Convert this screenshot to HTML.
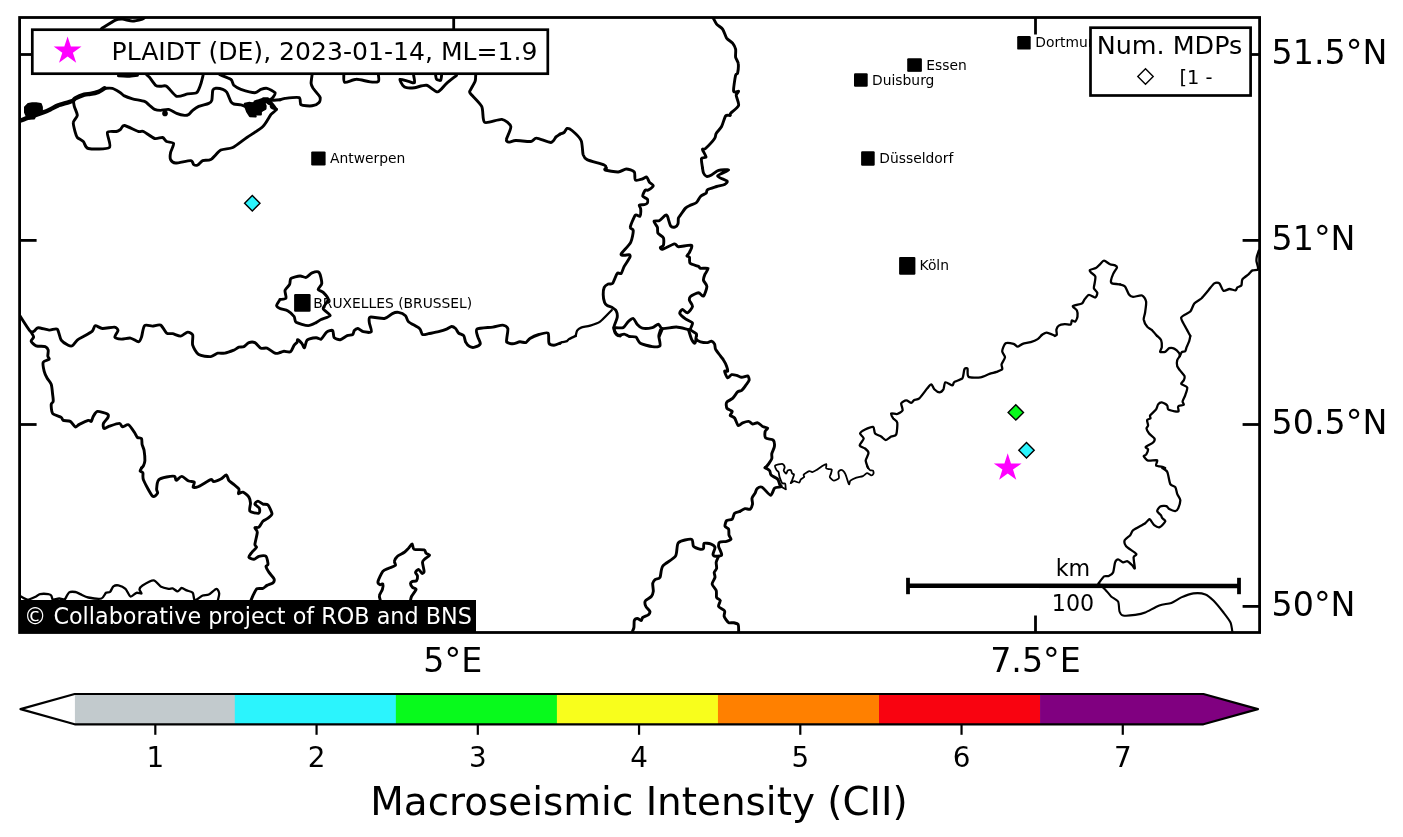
<!DOCTYPE html>
<html><head><meta charset="utf-8"><title>Macroseismic map</title>
<style>
html,body{margin:0;padding:0;background:#fff;}
svg{display:block;}
text{font-family:"DejaVu Sans","Liberation Sans",sans-serif;fill:#000;}
</style></head><body>
<svg width="1403" height="837" viewBox="0 0 1403 837">
<rect width="1403" height="837" fill="#fff"/>
<defs><clipPath id="ax"><rect x="19.6" y="17.5" width="1240.0" height="615.0"/></clipPath></defs>
<g clip-path="url(#ax)" fill="none" stroke="#000" stroke-width="2.9" stroke-linejoin="round" stroke-linecap="round">
<path d="M19.5,121.0 C20.3,120.7 23.1,119.5 26.1,118.4 C29.1,117.3 40.2,113.5 43.2,112.4 C46.2,111.3 48.3,110.3 50.2,109.4 C52.1,108.5 55.4,106.5 58.2,105.4 C61.0,104.4 70.2,101.9 72.3,101.0 C74.4,100.1 73.8,99.2 75.3,98.4 C76.8,97.6 82.4,95.3 84.3,94.7 C86.2,94.1 88.5,94.2 90.3,93.9 C92.1,93.6 96.6,92.6 98.4,91.9 C100.2,91.2 103.7,88.8 104.4,88.3" stroke-width="4.4"/>
<path d="M104.4,88.3 C105.4,88.3 110.4,87.8 112.4,88.3 C114.4,88.8 118.9,91.8 120.4,92.7 C121.9,93.7 122.9,95.1 124.4,95.9 C125.9,96.7 130.0,98.1 132.5,98.8 C135.0,99.5 142.4,100.6 144.5,101.4 C146.6,102.2 148.2,104.4 149.5,105.4 C150.8,106.4 153.2,108.8 154.6,109.4 C156.0,110.0 158.8,110.4 160.6,110.4 C162.3,110.4 166.6,109.0 168.6,109.4 C170.6,109.8 174.6,112.7 176.6,113.4 C178.6,114.2 183.2,115.3 184.7,115.4 C186.2,115.5 187.7,115.0 188.7,114.4 C189.7,113.8 191.4,111.4 192.7,110.4 C193.9,109.4 196.7,107.3 198.7,106.4 C200.7,105.5 207.2,104.2 208.8,103.4 C210.4,102.7 211.3,102.0 211.8,100.4 C212.3,98.8 212.3,91.8 212.8,90.3 C213.3,88.8 214.6,88.4 215.8,88.3 C217.1,88.2 221.4,88.8 222.8,89.3 C224.2,89.8 225.8,90.8 226.8,92.3 C227.8,93.8 229.9,99.9 230.8,101.4 C231.7,102.9 232.5,103.6 233.8,104.0 C235.1,104.4 239.4,104.5 240.9,104.8 C242.4,105.1 244.9,106.5 245.9,106.4 C246.9,106.4 247.8,104.8 248.9,104.4 C250.0,104.0 253.4,104.0 254.9,103.4 C256.4,102.9 259.4,100.5 260.9,100.0 C262.4,99.5 265.9,99.4 267.0,99.4 C268.1,99.5 268.4,100.4 270.0,100.4 C271.6,100.5 278.8,99.9 280.0,99.8"/>
<circle cx="165.0" cy="113.4" r="2.8" fill="#000" stroke="none"/>
<path d="M73.3,100.4 C73.4,101.2 73.8,104.5 74.3,106.4 C74.8,108.3 77.4,113.4 77.3,115.4 C77.2,117.4 73.5,120.3 73.3,122.4 C73.0,124.5 74.8,130.6 75.3,132.5 C75.8,134.4 76.3,136.4 77.3,137.5 C78.3,138.6 81.9,140.1 83.3,141.5 C84.7,142.9 85.0,147.8 88.3,148.5 C91.6,149.2 107.0,149.5 109.4,147.5 C111.8,145.5 106.5,134.5 107.4,132.5 C108.3,130.5 114.8,131.9 116.4,131.5 C118.0,131.1 119.4,130.2 120.4,129.5 C121.4,128.8 122.1,125.2 124.4,125.5 C126.7,125.8 136.1,130.8 138.5,131.5 C140.9,132.2 141.5,130.6 143.5,131.5 C145.5,132.4 152.2,137.8 154.6,138.5 C157.0,139.2 161.1,137.1 162.6,137.5 C164.1,137.9 165.2,140.8 166.6,141.5 C168.0,142.2 173.1,142.1 173.6,143.5 C174.1,144.9 171.0,150.5 170.6,152.5 C170.2,154.5 170.0,158.3 170.6,159.6 C171.2,160.9 173.1,162.9 175.6,163.0 C178.1,163.1 188.4,160.4 190.7,160.6 C193.0,160.8 192.8,164.0 193.7,164.6 C194.6,165.2 196.6,165.5 197.7,165.0 C198.8,164.5 201.1,161.3 202.7,160.6 C204.3,159.9 208.5,160.9 210.8,159.6 C213.1,158.3 218.1,151.6 220.8,150.1 C223.6,148.6 229.5,149.1 232.8,147.5 C236.1,145.9 243.1,140.1 246.9,137.5 C250.7,134.9 259.9,129.4 262.9,126.5 C265.9,123.6 269.4,116.5 271.0,114.4 C272.6,112.3 276.1,111.0 276.0,109.4 C275.9,107.8 270.8,102.4 270.0,101.4"/>
<path d="M146.5,74.7 C146.9,75.0 148.4,76.0 149.5,77.3 C150.6,78.6 154.2,84.2 155.6,85.3 C157.0,86.4 159.2,86.2 160.6,86.3 C162.0,86.4 164.6,85.0 166.6,86.3 C168.6,87.5 174.0,95.3 176.6,96.3 C179.2,97.2 185.2,94.4 187.7,93.9 C190.2,93.5 195.1,93.9 196.7,92.7 C198.3,91.5 199.9,86.5 200.7,84.3 C201.5,82.1 202.8,76.4 203.1,75.3"/>
<path d="M219.8,74.7 C221.2,75.3 229.1,78.0 230.8,79.3 C232.6,80.6 232.5,84.0 233.8,85.3 C235.1,86.5 238.3,88.4 240.9,89.3 C243.5,90.2 252.4,92.7 254.9,92.7 C257.4,92.7 259.4,89.8 260.9,89.3 C262.4,88.8 265.2,87.9 267.0,88.3 C268.8,88.7 274.2,91.6 275.0,92.7 C275.8,93.8 273.6,96.5 273.0,97.4 C272.4,98.3 270.4,99.5 270.0,99.8"/>
<path d="M118.4,75.9 C119.7,76.0 126.1,76.4 128.5,76.3 C130.9,76.2 136.4,75.4 137.5,75.3"/>
<path d="M101.4,28.7 C103.2,27.6 112.8,21.3 115.4,20.1 C118.0,18.9 120.3,19.0 122.4,19.1 C124.5,19.2 130.0,21.1 132.5,21.1 C135.0,21.1 141.0,19.5 142.5,19.1 C144.0,18.7 144.2,17.9 144.5,17.7"/>
<path d="M280.0,99.8 C280.6,99.6 282.6,98.7 285.0,98.4 C287.4,98.1 297.1,96.8 299.1,97.6 C301.1,98.4 299.5,103.8 301.1,104.8 C302.7,105.8 309.9,106.1 312.1,105.8 C314.4,105.5 318.1,103.5 319.1,102.4 C320.1,101.4 320.4,98.5 320.1,97.4 C319.9,96.3 318.0,94.4 317.1,93.3 C316.2,92.2 313.9,89.5 313.1,88.3 C312.4,87.0 311.2,85.0 311.1,83.3 C311.0,81.6 312.0,75.8 312.1,74.7"/>
<path d="M343.8,74.7 C343.9,75.7 343.2,81.7 344.8,82.3 C346.4,82.9 353.1,79.3 356.3,79.3 C359.5,79.2 367.5,81.7 370.3,81.9 C373.1,82.2 377.4,82.2 378.4,81.3 C379.4,80.4 378.4,75.5 378.4,74.7"/>
<path d="M413.5,74.7 C413.6,75.7 415.1,81.9 414.5,82.7 C413.9,83.5 410.3,81.7 408.5,81.3 C406.7,80.9 400.7,78.8 400.0,79.3 C399.3,79.8 402.0,84.2 402.8,85.3 C403.6,86.3 405.0,87.4 406.5,87.7 C408.0,88.0 412.0,88.0 414.5,87.7 C417.0,87.4 423.6,84.8 426.5,85.3 C429.4,85.8 435.1,92.2 437.6,91.9 C440.1,91.7 444.2,85.4 446.6,83.3 C449.0,81.2 455.4,76.3 456.6,75.3"/>
<path d="M435.6,75.3 C435.7,75.8 436.0,78.7 436.6,79.3 C437.2,79.9 440.0,80.8 440.6,80.3 C441.2,79.8 441.5,75.9 441.6,75.3"/>
<path d="M475.7,74.7 C475.6,75.5 475.8,79.3 475.1,81.3 C474.4,83.2 470.9,88.8 470.3,90.3 C469.7,91.8 468.9,91.3 470.3,93.3 C471.7,95.3 479.9,102.8 481.7,106.4 C483.5,110.0 482.2,120.8 484.7,122.4 C487.2,124.0 498.5,118.9 501.8,119.4 C505.1,119.9 510.2,124.0 510.8,126.5 C511.4,129.0 506.6,137.6 506.4,139.5 C506.1,141.4 507.6,142.0 508.8,142.1 C510.0,142.2 513.0,140.6 515.8,140.5 C518.6,140.4 528.3,141.8 530.9,141.5 C533.5,141.2 534.0,138.0 536.5,138.1 C539.0,138.2 548.6,142.7 551.0,142.5 C553.4,142.3 554.9,138.0 556.0,136.9 C557.1,135.8 559.5,134.4 560.0,134.1"/>
<path d="M560.0,134.1 C560.5,133.9 563.1,133.2 564.0,132.5 C564.9,131.8 566.0,128.8 567.0,128.5 C568.0,128.2 570.2,129.0 572.0,130.5 C573.8,132.0 579.7,137.5 581.1,140.5 C582.5,143.5 582.4,152.2 583.1,154.6 C583.9,157.0 584.5,158.3 587.1,159.6 C589.7,160.9 601.8,163.9 604.2,165.0 C606.6,166.1 606.0,167.6 606.2,168.0"/>
<path d="M713.0,17.7 C713.5,18.5 715.4,22.7 716.6,24.1 C717.8,25.5 721.4,27.4 722.6,29.1 C723.9,30.9 725.4,36.3 726.6,38.1 C727.9,39.9 731.5,41.8 732.6,43.2 C733.7,44.6 735.2,47.5 735.6,49.2 C736.0,51.0 735.3,55.5 735.6,57.2 C735.9,59.0 738.0,61.2 738.2,63.2 C738.5,65.2 737.9,71.8 737.6,73.3 C737.3,74.8 736.1,73.0 735.6,75.3 C735.1,77.5 733.2,89.3 733.6,91.3 C734.0,93.3 738.3,90.8 738.6,91.3 C738.9,91.8 736.2,93.5 736.2,95.3 C736.2,97.1 739.3,103.1 738.6,105.4 C737.9,107.7 731.6,112.2 730.6,113.4 C729.6,114.7 730.8,115.1 730.2,115.4 C729.6,115.7 726.7,114.6 725.6,116.0 C724.5,117.4 722.8,124.3 721.6,126.5 C720.4,128.7 717.1,132.0 716.2,133.5 C715.3,135.0 715.9,136.6 714.6,138.5 C713.3,140.4 707.0,147.1 705.5,148.5 C704.0,149.9 702.4,148.4 702.5,149.5 C702.6,150.6 706.2,155.9 706.1,157.0 C706.0,158.1 702.0,157.2 701.5,158.6 C701.0,160.0 702.4,166.8 702.5,168.0"/>
<path d="M280.0,299.5 C280.8,299.3 285.4,299.2 286.0,298.1 C286.6,297.0 284.6,292.1 285.0,290.4 C285.4,288.7 288.9,285.9 289.6,284.4 C290.4,282.9 289.7,279.4 291.0,278.4 C292.3,277.3 298.2,276.1 300.1,276.0 C302.0,275.9 304.6,277.8 306.1,277.4 C307.6,277.0 310.5,273.4 312.1,272.8 C313.7,272.2 317.9,271.1 319.1,272.4 C320.3,273.7 321.9,281.3 321.8,283.4 C321.7,285.5 317.9,288.3 318.1,289.4 C318.3,290.5 321.9,291.1 323.2,292.4 C324.5,293.7 328.2,297.5 328.2,299.5 C328.2,301.5 322.9,306.5 323.2,308.5 C323.4,310.5 330.5,314.1 330.2,315.5 C329.9,316.9 322.9,318.6 321.1,319.5 C319.3,320.4 317.7,321.8 316.1,322.6 C314.5,323.4 310.6,325.7 308.1,325.6 C305.6,325.6 297.9,323.3 296.1,322.2 C294.4,321.1 295.1,317.9 294.1,316.5 C293.1,315.1 289.8,311.9 288.0,310.9 C286.2,309.9 281.4,309.2 280.0,308.5 C278.6,307.8 276.6,306.6 276.6,305.5 C276.6,304.4 279.6,300.2 280.0,299.5"/>
<path d="M606.2,168.0 C606.1,168.2 603.7,169.5 605.2,170.0 C606.7,170.5 615.6,172.1 618.2,172.0 C620.8,171.9 624.2,169.0 626.2,169.0 C628.2,169.0 633.2,170.6 634.3,172.0 C635.4,173.4 634.3,179.1 635.3,180.0 C636.3,180.9 640.9,179.4 642.3,179.0 C643.7,178.6 645.8,176.6 646.7,177.0 C647.6,177.4 648.5,181.0 649.3,182.1 C650.1,183.2 653.4,184.7 653.3,185.7 C653.2,186.7 649.3,189.5 648.3,190.1 C647.3,190.7 646.0,189.3 645.3,190.1 C644.6,190.8 642.5,195.0 642.7,196.1 C643.0,197.2 646.7,198.2 647.3,199.1 C647.9,200.0 647.7,202.4 647.3,203.1 C646.9,203.8 645.3,204.4 644.3,204.7 C643.3,204.9 639.8,204.5 639.3,205.1 C638.8,205.7 640.6,207.7 640.7,209.1 C640.8,210.5 640.6,215.4 639.9,216.2 C639.2,217.0 636.5,213.8 635.3,215.2 C634.1,216.6 630.5,225.3 630.3,227.2 C630.0,229.1 633.2,228.7 633.3,230.6 C633.3,232.5 632.2,239.4 630.7,242.3 C629.2,245.2 622.0,252.3 621.2,253.9 C620.4,255.5 623.2,255.2 624.2,255.3 C625.2,255.4 628.5,254.4 629.2,254.7 C629.9,254.9 630.5,255.8 629.9,257.3 C629.3,258.8 625.3,264.4 624.2,266.4 C623.1,268.4 622.1,272.5 621.2,273.4 C620.3,274.3 618.3,272.1 617.2,273.4 C616.1,274.6 613.7,282.1 612.6,283.4 C611.5,284.7 609.2,283.5 608.2,284.0 C607.2,284.5 604.8,286.1 604.2,287.4 C603.6,288.7 603.2,292.6 603.2,294.5 C603.2,296.4 604.1,301.1 604.6,302.5 C605.1,303.9 606.2,304.9 607.2,305.5 C608.2,306.1 611.1,306.8 612.2,307.5 C613.3,308.2 615.6,309.6 616.2,310.9 C616.8,312.1 617.5,315.4 617.2,317.5 C616.9,319.6 613.9,325.6 613.8,327.6 C613.7,329.6 615.4,332.6 616.2,333.6 C617.0,334.7 619.7,335.7 620.2,336.0"/>
<path d="M611.8,310.1 C610.3,311.5 602.8,319.7 600.1,321.6 C597.4,323.5 592.5,324.9 590.1,325.6 C587.7,326.4 582.7,327.0 581.1,327.6 C579.5,328.2 577.8,329.6 577.1,330.6 C576.4,331.7 575.9,335.3 575.7,336.0" stroke-width="2.3"/>
<path d="M702.5,168.0 C702.6,168.6 703.0,171.9 703.5,173.0 C704.0,174.1 705.5,176.2 706.5,176.4 C707.5,176.7 710.0,175.8 711.5,175.0 C713.0,174.2 716.5,171.0 718.6,170.4 C720.7,169.8 728.7,169.3 728.6,170.0 C728.5,170.7 717.8,174.6 717.6,176.0 C717.4,177.4 726.1,179.9 727.0,181.0 C727.9,182.1 725.9,183.8 724.6,184.5 C723.3,185.2 718.7,185.8 716.6,186.5 C714.5,187.2 708.8,188.9 707.5,189.7 C706.2,190.5 707.0,192.2 706.1,193.1 C705.2,193.9 701.7,195.3 700.5,196.5 C699.3,197.7 697.8,201.4 696.5,202.5 C695.2,203.6 691.9,204.4 690.5,205.1 C689.1,205.8 686.8,206.8 685.5,208.1 C684.2,209.4 681.3,213.9 680.4,215.2 C679.5,216.5 678.7,217.1 678.4,218.2 C678.1,219.3 678.4,222.7 678.0,223.8 C677.6,224.9 676.3,226.5 675.4,226.8 C674.5,227.1 671.8,227.5 670.8,226.2 C669.8,224.9 668.1,217.6 667.4,216.2 C666.7,214.8 666.4,214.6 665.4,215.2 C664.4,215.8 660.8,219.8 659.4,220.6 C658.0,221.3 654.1,220.4 653.9,221.2 C653.6,222.0 656.9,225.7 657.4,227.2 C657.9,228.7 657.2,231.9 658.0,233.2 C658.8,234.5 662.7,236.4 663.4,237.9 C664.1,239.4 663.8,244.1 663.4,245.3 C663.0,246.5 660.5,246.8 660.4,247.3 C660.3,247.8 660.6,249.7 662.4,249.3 C664.1,248.9 672.4,244.2 674.4,243.9 C676.4,243.6 676.3,246.5 678.4,246.7 C680.5,246.9 690.1,244.6 691.5,245.3 C692.9,246.0 690.1,251.0 689.5,252.3 C688.9,253.6 686.9,255.3 686.9,255.9 C686.9,256.5 689.1,256.4 689.5,257.3 C689.9,258.2 689.0,262.2 690.1,263.3 C691.2,264.4 697.2,265.8 698.5,266.4 C699.8,267.0 699.3,268.1 700.5,268.4 C701.7,268.6 707.6,267.6 708.1,268.4 C708.6,269.1 705.5,272.9 704.9,274.4 C704.3,275.9 703.2,278.9 703.5,280.4 C703.8,281.9 706.9,284.4 706.9,286.4 C706.9,288.4 704.5,295.3 703.5,296.1 C702.5,296.9 700.1,292.8 698.5,292.8 C696.9,292.9 691.6,295.5 690.5,296.5 C689.4,297.5 689.2,299.2 689.5,300.5 C689.8,301.8 692.8,304.9 692.5,306.5 C692.2,308.1 688.8,312.5 687.5,312.9 C686.2,313.3 683.4,309.4 682.4,309.5 C681.4,309.6 679.4,312.3 679.8,313.5 C680.2,314.7 683.9,317.7 685.5,318.9 C687.1,320.1 691.9,321.7 692.5,323.0 C693.1,324.3 690.0,328.3 690.5,329.6 C691.0,330.9 695.4,332.8 696.1,333.6 C696.9,334.4 696.5,335.7 696.5,336.0"/>
<path d="M614.6,327.6 C615.7,327.6 621.5,328.4 623.2,327.6 C624.9,326.9 626.9,322.7 628.2,321.6 C629.5,320.5 632.2,318.1 633.3,318.5 C634.4,318.9 636.2,323.4 637.3,324.6 C638.4,325.8 640.4,327.8 642.3,328.2 C644.2,328.6 650.3,328.1 652.3,327.6 C654.3,327.1 657.1,324.1 658.4,324.2 C659.7,324.3 660.1,328.2 662.4,328.6 C664.6,329.0 673.1,326.9 676.4,327.0 C679.7,327.1 686.7,329.3 688.5,329.6 C690.3,329.9 690.2,329.6 690.5,329.6"/>
<path d="M662.4,328.6 L659.4,336.0"/>
<path d="M1120.0,284.4 C1119.0,284.3 1113.1,283.9 1112.0,283.4 C1110.9,282.9 1110.8,281.6 1111.0,280.4 C1111.2,279.1 1112.7,275.0 1113.4,273.4 C1114.2,271.8 1116.8,268.4 1117.0,267.4 C1117.2,266.4 1115.9,265.8 1115.0,265.4 C1114.1,265.0 1111.4,264.9 1110.0,264.3 C1108.6,263.7 1105.3,260.7 1104.0,260.7 C1102.7,260.7 1100.9,263.4 1099.9,264.3 C1098.9,265.2 1097.2,267.3 1095.9,268.0 C1094.7,268.7 1090.5,269.4 1089.9,270.0 C1089.3,270.6 1090.2,271.6 1090.9,272.4 C1091.6,273.2 1094.8,274.9 1095.3,276.4 C1095.8,277.8 1094.7,282.5 1094.5,284.0 C1094.3,285.5 1093.6,287.3 1093.9,288.4 C1094.2,289.5 1097.1,291.7 1097.3,292.8 C1097.5,293.9 1096.3,297.2 1095.3,297.5 C1094.2,297.8 1090.2,294.6 1088.9,294.9 C1087.6,295.1 1085.4,298.4 1084.5,299.5 C1083.6,300.6 1083.4,302.7 1081.9,303.5 C1080.4,304.3 1073.4,305.2 1072.8,306.1 C1072.2,307.0 1076.3,309.2 1076.9,310.5 C1077.5,311.8 1077.7,315.1 1077.5,316.5 C1077.3,317.9 1075.9,321.1 1075.2,321.6 C1074.5,322.1 1072.3,320.1 1071.8,320.5 C1071.2,320.9 1071.7,324.1 1070.8,324.6 C1069.9,325.1 1066.3,324.1 1064.8,324.2 C1063.3,324.3 1059.8,324.9 1058.8,325.6 C1057.8,326.3 1056.7,328.5 1056.4,329.6 C1056.2,330.7 1057.0,333.8 1056.8,334.6 C1056.6,335.4 1055.0,335.8 1054.8,336.0" stroke-width="2.3"/>
<path d="M1041.7,335.0 C1042.3,334.7 1045.1,332.5 1046.7,332.6 C1048.3,332.7 1053.8,335.2 1054.8,335.6" stroke-width="2.3"/>
<path d="M1120.0,284.4 C1120.6,284.6 1123.9,285.1 1125.0,286.4 C1126.1,287.7 1128.0,293.2 1129.0,294.5 C1130.0,295.8 1131.4,296.8 1133.0,296.9 C1134.6,297.0 1140.5,294.9 1142.1,295.5 C1143.7,296.1 1145.7,299.4 1146.1,301.5 C1146.5,303.6 1145.4,310.2 1145.1,312.5 C1144.8,314.8 1143.5,317.7 1143.7,319.5 C1144.0,321.3 1146.0,325.3 1147.1,326.6 C1148.1,327.9 1150.8,329.0 1152.1,330.2 C1153.3,331.4 1156.5,335.3 1157.1,336.0" stroke-width="2.3"/>
<path d="M1258.9,250.3 C1258.7,251.1 1257.2,254.9 1256.9,256.3 C1256.6,257.7 1256.3,259.7 1256.5,261.3 C1256.7,262.9 1258.6,268.3 1258.1,269.4 C1257.6,270.5 1253.7,269.8 1252.5,270.4 C1251.3,271.0 1249.8,273.3 1248.5,274.4 C1247.2,275.5 1243.3,278.0 1242.4,279.4 C1241.5,280.8 1242.0,284.4 1241.4,285.4 C1240.8,286.4 1238.2,286.8 1237.4,287.4 C1236.7,288.0 1236.4,290.2 1235.4,290.4 C1234.4,290.6 1230.9,288.9 1229.4,289.0 C1227.9,289.1 1224.7,291.5 1223.4,290.8 C1222.2,290.1 1220.5,284.3 1219.4,283.4 C1218.3,282.5 1215.7,282.5 1214.3,283.4 C1212.9,284.3 1209.9,288.5 1208.3,290.4 C1206.7,292.3 1203.0,296.9 1201.3,298.5 C1199.5,300.1 1195.7,301.9 1194.3,303.5 C1192.9,305.1 1191.9,309.8 1190.3,311.5 C1188.7,313.2 1181.8,315.6 1181.2,317.5 C1180.6,319.4 1184.1,324.3 1185.2,326.6 C1186.3,328.9 1189.7,334.8 1190.3,336.0" stroke-width="2.3"/>
<path d="M19.5,315.1 C20.8,317.1 28.3,329.1 30.1,331.1 C31.9,333.1 33.1,331.5 34.1,331.1 C35.1,330.7 36.2,327.8 38.1,327.7 C40.0,327.6 46.8,329.9 49.2,330.1 C51.6,330.3 55.7,327.9 57.2,329.1 C58.7,330.4 59.8,338.1 61.2,340.1 C62.6,342.1 66.8,344.5 68.2,345.2 C69.6,345.9 71.2,346.4 72.3,345.8 C73.4,345.2 75.8,341.3 77.3,340.1 C78.8,338.9 82.4,337.2 84.3,336.1 C86.2,335.0 90.9,332.4 92.3,331.1 C93.7,329.8 94.0,326.0 95.3,325.7 C96.6,325.4 100.0,328.3 102.4,328.5 C104.8,328.7 112.5,326.9 114.4,327.1 C116.4,327.4 118.0,329.2 118.0,330.5 C118.0,331.8 114.4,336.0 114.8,337.1 C115.2,338.2 119.4,339.0 121.4,339.1 C123.4,339.2 128.4,337.8 130.5,338.1 C132.6,338.4 137.1,341.9 138.5,341.8 C139.9,341.7 140.8,339.1 141.5,337.1 C142.2,335.1 143.1,327.1 144.5,325.7 C145.9,324.3 150.5,326.2 152.5,326.1 C154.5,326.0 158.8,324.2 160.6,325.1 C162.4,326.0 165.1,332.0 166.6,333.1 C168.1,334.2 170.8,333.3 172.6,333.7 C174.4,334.1 178.8,336.3 180.7,336.1 C182.6,335.9 186.2,332.2 187.7,332.1 C189.2,332.0 192.1,333.5 192.7,335.1 C193.3,336.7 191.9,342.8 192.7,345.2 C193.4,347.6 196.4,353.2 198.7,354.6 C201.0,356.0 208.4,356.8 210.8,356.6 C213.2,356.4 216.1,353.6 217.8,353.2 C219.6,352.8 222.8,353.6 224.8,353.2 C226.8,352.8 232.0,350.9 233.8,350.2 C235.6,349.4 237.6,347.6 238.9,347.2 C240.2,346.8 242.7,347.2 243.9,346.6 C245.2,346.0 247.5,343.1 248.9,342.6 C250.3,342.1 253.4,341.9 254.9,342.6 C256.4,343.3 259.4,347.5 260.9,348.2 C262.4,348.9 265.2,347.6 267.0,348.2 C268.8,348.8 273.4,352.6 275.0,353.2 C276.6,353.8 279.4,352.7 280.0,352.6"/>
<path d="M31.1,332.1 C31.4,332.7 33.7,336.0 33.7,337.1 C33.7,338.2 30.8,340.0 31.1,341.1 C31.4,342.2 34.3,345.1 36.1,345.8 C37.9,346.5 43.7,346.1 45.2,346.6 C46.7,347.2 47.9,349.0 48.2,350.2 C48.5,351.4 47.7,355.1 47.8,356.2 C47.9,357.3 49.8,358.4 49.2,359.2 C48.6,359.9 43.8,360.7 43.2,362.2 C42.6,363.7 43.7,369.3 44.2,371.3 C44.7,373.3 46.3,376.7 47.2,378.3 C48.1,379.9 50.5,382.3 51.2,384.3 C51.9,386.3 52.4,392.2 52.6,394.3 C52.9,396.4 53.4,400.1 53.2,401.4 C53.0,402.7 51.3,402.9 51.2,404.4 C51.1,405.9 51.4,411.8 52.6,413.4 C53.9,415.0 59.9,416.5 61.2,417.4 C62.5,418.3 62.1,419.9 63.2,420.4 C64.3,420.9 68.8,420.6 70.3,421.4 C71.8,422.2 74.2,426.5 75.3,426.9 C76.4,427.3 77.7,425.2 79.3,424.4 C80.9,423.6 86.8,420.8 88.3,420.4 C89.8,420.0 90.7,421.9 91.3,421.4 C91.9,420.9 92.5,417.6 93.3,416.4 C94.1,415.1 95.6,411.7 97.4,411.4 C99.2,411.1 106.1,413.2 107.4,414.0 C108.7,414.8 108.5,416.2 108.0,417.4 C107.5,418.6 103.9,422.0 103.4,423.4 C102.9,424.8 103.2,428.2 104.0,428.5 C104.8,428.8 107.5,426.7 109.4,426.1 C111.3,425.5 117.8,423.3 119.4,423.4 C121.0,423.5 121.3,426.7 122.4,426.9 C123.5,427.1 127.0,424.1 128.5,424.8 C130.0,425.5 133.4,430.9 134.5,432.5 C135.6,434.1 136.6,436.8 137.5,437.5 C138.4,438.2 140.9,437.6 141.5,438.5 C142.1,439.4 141.8,443.0 142.1,444.5 C142.4,446.0 143.8,448.5 144.1,450.5 C144.4,452.5 145.0,458.7 144.9,460.6 C144.8,462.5 143.9,464.7 143.5,465.6 C143.1,466.5 141.8,467.7 141.5,468.0"/>
<path d="M280.0,352.6 C280.5,352.4 282.7,351.3 284.0,351.2 C285.3,351.1 289.1,352.6 290.4,351.8 C291.7,351.1 293.3,346.4 294.1,345.2 C294.9,344.0 296.7,342.9 297.1,342.2 C297.6,341.5 297.1,339.6 297.7,339.7 C298.3,339.8 300.8,342.2 301.7,343.2 C302.6,344.2 303.8,348.2 304.5,347.8 C305.2,347.4 305.7,341.4 307.1,340.1 C308.6,338.8 314.4,337.8 316.1,337.7 C317.9,337.6 319.8,339.8 321.1,339.1 C322.4,338.4 325.2,333.2 326.6,332.1 C328.0,331.0 331.7,329.8 332.6,330.5 C333.6,331.2 333.2,336.6 334.2,337.7 C335.1,338.8 338.6,339.9 340.2,339.7 C341.8,339.4 345.6,336.3 347.2,335.7 C348.8,335.1 351.8,335.1 352.7,334.5 C353.6,333.9 353.7,331.2 354.3,330.5 C354.9,329.8 356.8,328.4 357.9,328.5 C359.0,328.6 361.6,331.3 363.3,331.7 C365.0,332.1 370.6,332.8 371.3,331.7 C372.1,330.6 369.4,324.3 369.3,322.5 C369.2,320.7 368.4,317.6 370.3,317.1 C372.2,316.6 381.6,318.9 384.4,318.5 C387.2,318.1 390.6,314.4 392.4,313.6 C394.1,312.8 396.8,312.1 398.4,312.4 C400.0,312.7 404.2,314.5 405.5,315.7 C406.8,316.9 406.8,320.1 408.5,321.7 C410.2,323.3 417.8,326.9 419.5,328.5 C421.2,330.1 421.4,333.9 422.5,334.5 C423.6,335.1 426.5,334.1 428.5,333.7 C430.5,333.3 436.3,332.3 438.6,331.7 C440.9,331.1 445.0,329.8 446.6,329.1 C448.2,328.5 450.5,326.6 451.6,326.5 C452.7,326.4 454.7,327.7 455.6,328.5 C456.5,329.3 457.6,332.2 458.6,333.1 C459.6,334.0 462.8,334.6 463.7,335.7 C464.6,336.8 464.9,340.8 465.7,342.2 C466.4,343.6 468.6,346.0 469.7,346.6 C470.8,347.2 473.4,347.6 474.7,347.2 C476.0,346.8 479.9,345.1 480.3,343.8 C480.7,342.5 478.1,338.3 477.7,336.5 C477.3,334.7 475.2,330.3 477.1,329.1 C479.0,327.9 489.6,327.6 492.8,327.1 C496.0,326.6 500.9,324.9 502.8,325.1 C504.7,325.3 507.3,326.9 507.8,328.5 C508.3,330.1 506.9,336.4 506.8,338.1 C506.7,339.8 506.1,341.5 506.8,342.2 C507.6,342.9 511.2,343.9 512.8,343.8 C514.4,343.8 518.3,341.9 519.9,341.8 C521.5,341.7 524.6,343.0 525.9,342.6 C527.1,342.2 528.3,339.5 529.9,338.5 C531.5,337.5 536.6,335.2 538.9,334.5 C541.2,333.8 546.7,332.0 548.0,333.1 C549.3,334.2 548.2,341.7 549.0,343.2 C549.8,344.7 552.6,345.2 554.0,345.2 C555.4,345.2 559.2,343.4 560.0,343.2"/>
<path d="M575.7,335.9 C574.9,336.3 570.1,338.5 569.0,339.1 C567.9,339.8 567.9,340.7 567.0,341.1 C566.1,341.5 562.9,341.9 562.0,342.2 C561.1,342.5 560.2,343.6 560.0,343.8" stroke-width="2.3"/>
<path d="M613.8,327.7 C614.0,328.4 614.7,332.1 615.2,333.1 C615.8,334.1 617.1,335.6 618.2,335.7 C619.3,335.8 622.8,334.0 624.2,334.1 C625.6,334.2 627.7,336.1 629.2,336.5 C630.7,336.9 634.5,336.3 635.9,337.1 C637.3,337.9 638.2,342.0 640.3,343.2 C642.3,344.4 649.8,346.3 652.3,346.6 C654.8,346.9 659.2,347.1 660.0,345.8 C660.8,344.5 658.8,338.1 658.8,336.1 C658.8,334.1 660.2,330.9 660.4,330.1"/>
<path d="M688.5,329.7 C688.9,330.9 690.7,337.4 691.5,339.1 C692.3,340.8 694.3,343.2 694.9,343.2 C695.5,343.2 696.0,339.6 696.1,339.1"/>
<path d="M696.5,335.1 C696.5,335.6 695.6,338.3 696.1,339.1 C696.6,339.9 699.1,341.4 700.5,341.8 C701.9,342.2 706.1,342.7 707.5,342.6 C708.9,342.5 710.6,340.9 711.5,341.1 C712.4,341.3 714.1,343.2 714.6,344.2 C715.1,345.2 714.9,347.7 715.6,349.2 C716.4,350.7 719.6,354.8 720.6,356.2 C721.6,357.6 722.9,358.9 723.6,360.2 C724.4,361.4 726.1,364.8 726.6,366.2 C727.1,367.6 727.9,370.7 727.6,371.3 C727.4,371.9 724.6,370.5 724.6,371.3 C724.6,372.1 726.7,377.5 727.6,377.9 C728.5,378.3 730.5,375.0 731.6,374.7 C732.7,374.4 735.3,375.0 736.6,375.3 C737.9,375.6 740.3,377.2 741.7,377.3 C743.1,377.4 746.8,375.5 747.7,375.9 C748.6,376.3 749.4,379.1 749.1,380.3 C748.9,381.5 746.6,384.1 745.7,385.3 C744.8,386.6 742.7,389.5 741.7,390.3 C740.7,391.1 738.7,390.9 737.6,391.9 C736.5,392.9 734.0,397.1 732.6,398.4 C731.2,399.7 727.3,401.1 726.6,402.4 C725.9,403.6 726.3,407.3 727.0,408.4 C727.7,409.5 731.8,410.5 732.2,411.4 C732.6,412.3 729.9,414.6 730.2,415.4 C730.5,416.2 733.6,416.7 734.6,418.0 C735.6,419.3 737.2,424.9 738.2,425.5 C739.2,426.1 741.4,423.3 742.7,422.8 C744.0,422.3 747.5,421.2 748.7,421.4 C750.0,421.5 751.6,423.8 752.7,424.0 C753.8,424.2 756.5,422.5 757.7,422.8 C759.0,423.1 761.5,425.8 762.7,426.5 C764.0,427.2 767.4,427.5 767.7,428.1 C768.0,428.7 765.4,430.2 765.1,431.5 C764.9,432.8 764.7,437.0 765.7,438.1 C766.7,439.2 772.1,439.1 773.2,440.1 C774.3,441.2 774.6,444.8 774.4,446.5 C774.2,448.2 772.1,452.1 771.8,453.6 C771.5,455.1 772.2,457.4 771.8,458.6 C771.4,459.9 769.6,462.4 768.8,463.6 C768.0,464.8 765.6,467.4 765.1,468.0"/>
<path d="M1041.7,335.1 C1041.2,335.6 1039.1,338.2 1037.7,339.1 C1036.3,340.0 1032.6,341.6 1030.7,342.2 C1028.8,342.8 1024.3,343.2 1022.7,343.8 C1021.1,344.4 1018.7,346.6 1017.6,346.6 C1016.5,346.6 1015.1,344.2 1013.6,343.8 C1012.1,343.4 1007.0,342.3 1005.6,343.2 C1004.2,344.1 1002.3,349.4 1002.2,351.2 C1002.1,352.9 1005.1,355.6 1005.0,357.2 C1004.9,358.8 1002.0,362.7 1001.6,364.2 C1001.2,365.7 1002.8,368.2 1002.2,369.2 C1001.6,370.2 998.2,371.3 996.6,371.9 C995.0,372.5 991.5,373.2 989.5,373.9 C987.5,374.6 983.1,376.9 980.5,377.3 C977.9,377.7 970.1,377.8 968.5,376.7 C966.9,375.6 968.0,369.5 967.5,368.6 C967.0,367.7 965.0,368.0 964.4,369.2 C963.8,370.4 963.6,376.7 962.4,378.3 C961.1,379.9 955.6,381.0 954.4,381.9 C953.1,382.8 953.5,385.2 952.4,385.3 C951.3,385.4 946.5,381.8 945.4,382.3 C944.3,382.8 944.1,388.1 943.4,389.3 C942.6,390.6 940.5,392.3 939.4,392.3 C938.3,392.3 935.3,390.3 934.3,389.3 C933.3,388.3 932.2,384.4 931.3,384.3 C930.4,384.2 928.8,386.5 927.3,388.3 C925.8,390.1 920.9,396.9 919.3,398.4 C917.7,399.9 915.3,399.4 914.3,400.0 C913.3,400.6 912.3,402.8 911.3,402.8 C910.3,402.9 907.5,400.3 906.2,400.4 C904.9,400.5 901.7,402.1 901.2,403.4 C900.8,404.6 903.1,409.1 902.6,410.4 C902.1,411.7 898.6,413.6 897.2,414.0 C895.8,414.4 891.7,412.8 891.2,413.4 C890.7,413.9 892.5,417.3 893.2,418.4 C894.0,419.5 896.8,420.4 897.2,422.4 C897.6,424.4 897.0,432.7 896.2,434.5 C895.5,436.3 892.5,435.8 891.2,436.5 C889.9,437.2 887.1,440.1 885.8,440.1 C884.5,440.1 882.4,437.3 881.1,436.5 C879.8,435.7 876.1,434.7 875.1,433.5 C874.1,432.3 874.4,427.4 873.1,426.9 C871.9,426.4 866.7,428.7 865.1,429.5 C863.5,430.3 860.3,432.4 860.1,433.5 C859.9,434.6 863.8,437.0 863.7,438.5 C863.7,440.0 859.5,444.2 859.7,445.5 C859.9,446.8 864.0,447.6 865.1,448.5 C866.2,449.4 868.4,451.5 868.5,453.0 C868.6,454.5 865.8,458.7 865.7,460.6 C865.7,462.5 867.8,467.1 868.1,468.0" stroke-width="2.3"/>
<path d="M1157.1,335.9 C1157.6,336.4 1160.5,338.7 1161.1,340.1 C1161.7,341.5 1161.9,345.7 1161.8,347.2 C1161.7,348.7 1159.7,351.2 1160.1,351.8 C1160.5,352.4 1164.1,352.2 1165.2,351.8 C1166.3,351.4 1168.1,348.6 1169.2,348.2 C1170.3,347.8 1173.0,348.0 1174.2,348.6 C1175.5,349.2 1178.5,352.2 1179.2,353.2 C1179.9,354.1 1179.7,355.8 1179.8,356.2" stroke-width="2.3"/>
<path d="M1190.3,335.9 C1190.2,336.5 1189.7,339.7 1189.2,341.1 C1188.7,342.5 1187.1,345.9 1186.6,347.2 C1186.1,348.5 1185.8,350.6 1185.2,351.2 C1184.6,351.8 1182.5,351.6 1181.8,352.2 C1181.1,352.8 1180.4,355.2 1179.8,356.2 C1179.2,357.2 1177.5,358.9 1177.2,360.2 C1176.9,361.4 1176.8,364.9 1177.2,366.2 C1177.6,367.5 1179.3,369.4 1180.2,370.7 C1181.1,372.0 1184.1,375.1 1184.6,376.3 C1185.0,377.5 1184.2,379.4 1183.8,380.3 C1183.4,381.2 1180.8,383.0 1181.2,383.9 C1181.6,384.8 1186.7,385.9 1187.2,387.3 C1187.7,388.7 1185.8,393.5 1185.2,395.3 C1184.6,397.1 1182.8,400.2 1182.6,401.4 C1182.4,402.6 1184.3,404.2 1183.8,404.8 C1183.2,405.4 1178.9,405.6 1178.2,406.4 C1177.5,407.2 1179.0,410.8 1178.6,411.4 C1178.2,412.0 1176.5,411.6 1175.2,411.4 C1173.9,411.1 1169.2,410.1 1168.2,409.4 C1167.2,408.6 1168.0,406.3 1167.2,405.4 C1166.4,404.5 1162.9,402.5 1161.8,402.4 C1160.7,402.3 1158.8,403.5 1158.1,404.4 C1157.4,405.3 1157.1,408.0 1156.1,409.4 C1155.1,410.8 1150.8,414.3 1150.1,415.4 C1149.4,416.5 1150.9,417.8 1150.5,418.4 C1150.1,419.0 1147.4,419.1 1147.1,420.0 C1146.8,420.9 1148.2,424.4 1148.1,425.5 C1148.0,426.6 1146.4,427.5 1146.5,428.5 C1146.6,429.5 1148.1,432.2 1149.1,433.5 C1150.1,434.8 1154.0,437.4 1154.5,438.5 C1155.0,439.6 1154.2,441.4 1153.1,442.5 C1152.0,443.6 1146.3,446.0 1145.7,446.9 C1145.1,447.8 1148.0,448.5 1148.1,449.5 C1148.1,450.5 1146.6,453.8 1146.1,454.6 C1145.5,455.4 1143.5,455.4 1143.7,456.2 C1144.0,456.9 1146.4,460.1 1148.1,460.6 C1149.8,461.1 1156.1,459.6 1157.1,460.2 C1158.1,460.8 1155.3,464.8 1156.1,465.6 C1156.9,466.5 1162.1,466.7 1163.2,467.0 C1164.3,467.3 1165.0,467.9 1165.2,468.0" stroke-width="2.3"/>
<path d="M141.5,468.0 C141.3,468.4 139.9,470.4 140.1,471.0 C140.3,471.6 142.5,471.9 142.9,473.0 C143.3,474.1 142.3,477.1 143.5,480.0 C144.7,482.9 150.7,494.5 152.5,496.1 C154.3,497.7 157.1,494.0 157.6,493.1 C158.1,492.2 156.5,490.7 156.6,489.1 C156.7,487.5 157.3,481.5 158.6,480.0 C159.8,478.5 164.6,477.4 166.6,477.0 C168.6,476.6 173.4,476.0 174.6,476.4 C175.8,476.8 175.3,480.4 176.2,480.4 C177.1,480.4 180.1,476.3 181.7,476.4 C183.3,476.5 187.1,480.3 188.7,481.0 C190.3,481.7 193.8,481.3 194.3,482.1 C194.9,482.9 192.6,486.6 193.1,487.1 C193.6,487.7 196.5,487.4 198.7,486.5 C200.9,485.6 208.9,480.2 210.8,479.6 C212.7,479.0 212.6,481.7 213.8,481.6 C215.1,481.5 219.2,479.8 220.8,479.0 C222.4,478.2 225.4,474.8 226.4,475.0 C227.4,475.2 228.0,479.3 228.8,480.4 C229.6,481.5 231.5,482.6 232.8,483.7 C234.1,484.8 238.2,487.9 238.9,489.1 C239.6,490.4 238.0,493.3 238.5,493.7 C239.0,494.1 241.6,491.7 242.9,492.1 C244.2,492.5 248.0,495.7 248.9,497.1 C249.8,498.5 250.4,501.3 250.5,503.1 C250.6,504.9 248.9,509.9 249.9,511.2 C250.9,512.5 257.7,513.6 258.9,513.2 C260.1,512.8 259.8,509.2 259.3,508.1 C258.8,507.0 255.1,505.0 254.9,504.1 C254.7,503.2 256.9,501.1 257.9,501.1 C258.9,501.1 261.6,503.6 262.9,504.1 C264.2,504.6 266.9,503.9 268.0,505.1 C269.1,506.3 272.0,512.2 272.0,513.8 C272.0,515.4 269.1,517.3 268.0,518.2 C266.9,519.1 264.0,520.1 262.9,521.2 C261.8,522.3 259.9,526.4 258.9,527.2 C257.9,528.0 255.1,527.2 254.9,527.8 C254.7,528.4 257.3,530.1 257.3,532.2 C257.3,534.3 255.0,542.4 254.9,544.3 C254.8,546.2 256.9,546.3 256.5,547.3 C256.1,548.3 252.8,551.0 251.9,552.3 C251.0,553.5 248.7,556.4 248.9,557.3 C249.2,558.2 252.7,559.4 253.9,559.3 C255.2,559.2 257.4,556.7 258.9,556.3 C260.4,555.9 264.9,555.3 266.0,556.3 C267.1,557.3 268.0,563.0 268.0,564.3 C268.0,565.6 265.9,565.4 266.0,566.4 C266.1,567.4 268.0,570.9 269.0,572.4 C270.0,573.9 273.5,577.5 274.0,578.8 C274.5,580.1 273.9,582.0 273.0,582.8 C272.1,583.6 268.3,584.7 267.0,585.4 C265.7,586.1 264.2,588.0 262.9,588.4 C261.6,588.8 258.1,588.0 256.9,588.8 C255.7,589.6 254.1,593.4 253.3,594.9 C252.6,596.4 251.2,599.8 250.9,600.5" stroke-width="2.9"/>
<path d="M20.1,596.1 C20.6,596.4 22.8,597.7 23.7,598.1 C24.6,598.5 26.4,599.3 27.1,599.5 C27.8,599.7 28.0,599.9 29.1,599.5 C30.2,599.1 34.7,597.2 36.1,596.5 C37.5,595.8 38.6,594.4 40.1,594.1 C41.6,593.8 46.8,593.9 48.2,594.1 C49.6,594.3 50.7,594.8 51.2,595.5 C51.8,596.2 52.2,599.0 52.6,599.5 C53.0,600.0 53.4,599.6 54.2,599.5 C55.0,599.4 58.0,598.5 59.2,598.5 C60.5,598.5 63.5,599.5 64.2,599.5 C65.0,599.5 64.6,599.8 65.2,598.9 C65.8,598.0 67.9,593.3 69.2,592.4 C70.5,591.5 73.9,591.8 75.3,592.0 C76.7,592.2 78.7,593.4 80.3,594.1 C81.9,594.8 85.7,597.0 88.3,597.5 C90.9,598.0 99.2,599.1 101.4,598.5 C103.6,597.9 104.9,593.6 106.0,592.8 C107.1,592.0 109.1,592.8 110.0,592.0 C110.9,591.2 112.4,587.2 113.4,586.4 C114.5,585.6 116.9,585.1 118.4,585.4 C119.9,585.7 124.0,587.4 125.5,588.8 C127.0,590.2 129.1,596.0 130.5,596.5 C131.9,597.0 135.1,593.2 136.5,592.8 C137.9,592.4 141.1,593.9 141.5,593.5 C141.9,593.1 139.4,590.4 139.5,589.4 C139.6,588.4 140.7,586.5 142.5,585.4 C144.3,584.3 151.3,580.3 153.6,580.4 C155.9,580.5 158.7,585.4 160.6,586.4 C162.5,587.4 167.1,588.5 168.6,588.8 C170.1,589.0 171.5,588.1 172.6,588.4 C173.7,588.7 176.5,591.4 177.6,591.4 C178.7,591.4 180.6,588.1 181.7,588.0 C182.8,587.9 185.3,589.8 186.7,590.4 C188.1,591.0 191.8,591.7 192.7,592.8 C193.6,593.9 193.8,598.7 194.3,599.5 C194.8,600.3 195.6,600.0 196.7,599.5 C197.8,599.0 201.2,596.1 202.7,595.5 C204.2,594.9 207.1,595.3 208.8,594.5 C210.5,593.7 215.1,588.9 216.4,588.8 C217.7,588.7 219.0,592.0 219.2,593.5 C219.4,595.0 218.0,599.6 217.8,600.5" stroke-width="2.3"/>
<path d="M380.4,600.5 C380.3,599.9 379.1,596.9 379.4,595.5 C379.6,594.1 382.0,590.8 382.4,589.4 C382.8,588.0 383.1,584.6 382.8,584.0 C382.5,583.4 380.6,585.1 380.0,584.8 C379.4,584.5 377.6,583.1 378.0,581.4 C378.4,579.7 381.5,573.0 382.8,571.4 C384.1,569.8 386.8,569.1 388.4,568.4 C390.0,567.6 394.6,566.3 395.4,565.4 C396.1,564.5 394.1,562.4 394.4,561.3 C394.6,560.2 396.1,557.4 397.4,556.3 C398.6,555.2 403.0,553.3 404.4,552.3 C405.8,551.3 407.5,549.3 408.5,548.3 C409.5,547.2 411.4,543.8 412.1,543.9 C412.8,544.0 412.6,548.5 414.1,549.3 C415.6,550.0 422.6,549.4 424.1,549.9 C425.6,550.4 425.4,552.6 426.1,553.3 C426.8,554.0 429.7,554.5 429.5,555.3 C429.3,556.0 425.4,558.4 424.5,559.3 C423.6,560.2 422.6,560.8 422.5,562.3 C422.4,563.8 424.2,570.0 424.1,571.4 C424.1,572.8 422.8,573.6 422.1,573.4 C421.4,573.1 419.3,569.5 418.5,569.4 C417.7,569.3 415.6,571.6 415.5,572.4 C415.4,573.2 417.4,575.0 417.5,576.0 C417.6,577.0 417.1,580.1 416.5,580.8 C415.9,581.5 413.2,581.1 412.5,581.4 C411.8,581.7 410.5,582.6 410.5,583.4 C410.5,584.1 411.8,586.6 412.5,587.4 C413.2,588.1 416.2,588.3 416.1,589.4 C416.0,590.5 412.2,595.1 411.5,596.5 C410.8,597.9 410.6,600.0 410.5,600.5" stroke-width="2.9"/>
<path d="M765.1,467.6 C765.7,468.0 768.9,469.7 769.6,470.6 C770.4,471.5 770.1,474.0 771.1,475.1 C772.1,476.2 776.5,478.0 777.6,479.1 C778.7,480.2 779.2,483.2 779.6,484.2 C780.0,485.1 781.7,486.2 781.1,486.7 C780.5,487.2 775.9,487.1 774.6,488.2 C773.3,489.3 772.2,495.3 770.6,495.2 C769.0,495.1 763.8,488.0 762.1,487.2 C760.4,486.4 758.0,487.9 757.1,488.7 C756.2,489.4 755.7,492.0 755.1,493.2 C754.5,494.4 752.3,496.8 752.0,498.2 C751.7,499.6 752.8,502.8 752.5,504.2 C752.2,505.6 750.9,508.6 750.0,509.2 C749.1,509.8 746.2,508.4 745.0,508.7 C743.8,509.0 740.6,511.0 740.0,511.3"/>
<path d="M785.7,489.2 C785.6,488.5 785.6,484.4 785.2,483.7 C784.8,482.9 782.9,484.0 782.2,483.2 C781.5,482.4 780.1,478.5 779.6,477.1 C779.1,475.7 779.0,473.0 778.6,472.1 C778.2,471.2 777.0,470.9 776.6,470.1 C776.2,469.3 774.4,466.4 775.1,465.6 C775.8,464.8 781.0,463.7 782.2,463.9 C783.4,464.1 784.5,466.3 784.7,467.1 C784.9,467.9 783.5,469.8 783.7,470.6 C783.9,471.4 785.7,473.6 786.2,473.6 C786.7,473.6 787.1,471.0 787.7,470.6 C788.3,470.2 790.1,469.7 790.7,470.1 C791.3,470.5 791.8,473.0 792.2,473.6 C792.6,474.2 794.0,473.8 794.0,474.6 C794.0,475.4 792.6,479.0 792.2,480.1 C791.8,481.2 790.5,483.1 790.7,483.2 C791.0,483.3 793.1,481.2 794.2,481.1 C795.3,481.0 798.4,482.9 799.2,482.7 C800.0,482.5 800.1,480.3 800.7,479.6 C801.3,478.9 803.8,477.7 804.2,477.1 C804.6,476.5 803.1,475.4 803.7,474.6 C804.3,473.9 808.1,471.4 809.2,471.1 C810.3,470.8 811.3,472.3 812.3,472.1 C813.3,471.9 816.0,470.4 817.3,469.6 C818.5,468.9 821.2,466.8 822.3,466.1 C823.4,465.4 825.8,463.9 826.3,464.1 C826.8,464.4 825.9,467.5 826.1,468.1 C826.4,468.7 827.6,468.9 828.3,469.1 C829.0,469.3 831.5,469.0 831.8,469.6 C832.1,470.2 831.0,473.2 830.8,474.1 C830.5,475.0 829.4,476.3 829.8,477.1 C830.2,477.9 832.7,480.5 833.8,480.6 C834.9,480.7 838.3,479.2 838.9,478.1 C839.5,477.0 838.1,473.1 838.4,472.1 C838.7,471.1 840.5,469.6 841.4,469.9 C842.3,470.1 844.5,472.3 845.4,474.1 C846.3,475.9 848.3,483.4 848.9,484.2 C849.5,485.0 849.5,481.4 850.4,480.6 C851.3,479.8 854.8,478.2 856.4,477.6 C858.0,477.0 861.6,476.7 862.9,476.1 C864.2,475.5 866.0,473.2 867.0,473.1 C868.0,473.0 870.2,475.2 871.0,475.3 C871.8,475.4 873.2,474.2 873.5,473.6 C873.8,473.0 873.4,471.0 873.0,470.6 C872.6,470.2 870.8,470.7 870.0,470.1 C869.2,469.5 867.2,466.4 867.0,466.1 C866.8,465.8 868.0,467.8 868.1,468.0" stroke-width="1.8"/>
<path d="M781.1,486.7 L785.7,489.2" stroke-width="1.8"/>
<path d="M740.0,511.4 C739.3,511.6 735.6,512.2 734.6,513.2 C733.6,514.2 733.2,518.3 732.2,519.2 C731.2,520.1 727.5,519.7 726.6,520.6 C725.7,521.5 724.8,525.1 725.0,526.2 C725.2,527.3 728.1,528.1 728.6,529.2 C729.1,530.3 728.7,533.9 729.0,535.2 C729.3,536.5 731.3,538.5 731.0,539.3 C730.7,540.1 728.0,540.9 726.6,541.3 C725.2,541.7 720.6,541.7 719.6,542.3 C718.6,542.9 718.5,545.2 718.6,546.3 C718.7,547.4 720.2,550.2 720.6,551.3 C721.0,552.4 722.2,554.7 721.6,555.3 C721.0,555.9 716.7,556.4 715.6,556.3 C714.5,556.2 713.1,555.4 713.0,554.3 C712.9,553.2 715.3,548.6 715.0,547.3 C714.7,546.0 711.9,544.4 710.5,543.9 C709.1,543.4 705.0,542.8 704.1,543.3 C703.2,543.8 704.0,547.5 703.5,548.3 C703.0,549.0 701.8,549.5 700.5,549.3 C699.2,549.0 694.6,547.5 693.5,546.3 C692.4,545.0 693.4,539.8 691.5,539.3 C689.6,538.8 680.4,540.6 678.4,542.7 C676.4,544.8 677.4,553.4 675.4,556.3 C673.4,559.2 664.7,563.4 662.8,566.0 C660.9,568.6 660.9,575.7 660.0,577.4 C659.1,579.1 656.2,578.6 655.3,579.4 C654.4,580.1 653.0,581.9 652.7,583.4 C652.5,584.9 653.5,589.8 653.3,591.4 C653.1,593.0 652.3,595.3 651.3,596.5 C650.3,597.7 646.0,599.6 645.3,600.9 C644.6,602.1 645.3,605.2 645.9,606.5 C646.5,607.8 649.6,610.5 649.9,611.5 C650.2,612.5 649.2,614.1 648.3,614.9 C647.4,615.6 643.6,616.8 642.7,617.5 C641.8,618.2 642.0,620.4 641.3,620.5 C640.6,620.6 638.2,618.5 637.3,618.5 C636.4,618.5 634.7,619.4 634.3,620.5 C633.9,621.6 634.2,626.1 633.9,627.6 C633.6,629.1 632.1,632.0 631.9,632.6"/>
<path d="M718.6,556.3 C718.3,557.0 716.5,560.8 716.2,562.3 C716.0,563.8 716.9,567.1 716.6,568.4 C716.4,569.7 714.4,571.3 714.2,572.4 C714.0,573.5 715.3,575.9 715.0,577.4 C714.7,578.9 712.0,582.4 712.1,584.0 C712.2,585.6 715.6,588.7 716.2,590.4 C716.8,592.1 716.1,596.2 716.6,597.5 C717.1,598.8 720.0,599.4 720.2,600.5 C720.5,601.6 718.1,605.2 718.6,606.5 C719.1,607.8 723.9,609.6 724.6,610.9 C725.3,612.1 723.7,615.0 724.2,616.5 C724.7,618.0 727.5,621.8 728.6,622.6 C729.7,623.4 731.8,622.4 733.0,622.6 C734.2,622.9 737.5,623.4 738.2,624.6 C738.9,625.9 738.6,631.6 738.6,632.6"/>
<path d="M1162.3,468.0 C1162.9,468.5 1166.3,470.0 1167.3,472.0 C1168.3,474.0 1169.3,482.2 1170.3,484.1 C1171.3,486.0 1174.4,485.9 1175.3,487.1 C1176.2,488.4 1176.7,492.5 1177.3,494.1 C1177.9,495.7 1180.2,498.4 1180.3,500.1 C1180.4,501.9 1178.9,506.7 1178.3,508.1 C1177.7,509.5 1176.4,511.0 1175.3,511.1 C1174.2,511.2 1170.4,509.7 1169.3,509.1 C1168.2,508.5 1167.4,506.4 1166.3,506.1 C1165.2,505.8 1161.4,505.9 1160.3,506.5 C1159.2,507.1 1157.1,510.0 1157.2,511.1 C1157.3,512.2 1160.3,514.3 1160.9,515.2 C1161.5,516.1 1161.8,517.5 1162.3,518.2 C1162.8,519.0 1165.6,520.1 1165.3,521.2 C1165.0,522.3 1161.1,526.7 1159.7,527.2 C1158.3,527.7 1155.5,526.2 1154.2,525.2 C1152.9,524.2 1150.7,519.5 1149.6,519.2 C1148.5,519.0 1147.2,521.8 1145.2,523.2 C1143.2,524.6 1135.1,528.7 1133.2,530.2 C1131.3,531.7 1131.3,534.0 1130.2,535.2 C1129.1,536.5 1125.2,538.8 1124.7,540.2 C1124.2,541.6 1124.7,544.6 1126.1,546.3 C1127.5,548.0 1135.3,552.5 1136.2,553.9 C1137.1,555.3 1133.8,555.5 1133.6,557.3 C1133.4,559.1 1135.0,567.3 1134.8,568.3 C1134.6,569.3 1133.1,566.2 1132.2,565.3 C1131.3,564.4 1128.6,561.7 1127.5,561.3 C1126.4,560.9 1124.3,562.5 1123.1,562.3 C1121.9,562.0 1119.1,559.3 1118.1,559.3 C1117.1,559.3 1115.7,560.7 1115.1,562.3 C1114.5,563.9 1113.9,570.7 1113.1,572.4 C1112.3,574.1 1109.8,575.5 1108.7,576.0 C1107.6,576.5 1105.4,575.5 1104.1,576.4 C1102.8,577.3 1099.3,582.5 1098.6,583.4" stroke-width="2.3"/>
<path d="M1098.6,583.4 C1099.4,584.1 1103.5,587.8 1105.1,589.4 C1106.7,591.0 1109.5,594.9 1111.1,596.4 C1112.7,597.9 1117.0,599.6 1118.1,601.5 C1119.1,603.4 1118.9,609.8 1119.5,611.5 C1120.1,613.2 1121.1,615.1 1123.1,615.5 C1125.1,615.9 1132.4,615.3 1135.2,614.9 C1138.0,614.5 1142.2,613.7 1145.2,612.5 C1148.2,611.3 1156.0,606.7 1159.3,605.5 C1162.6,604.3 1168.5,603.9 1171.3,602.9 C1174.0,601.9 1178.5,598.6 1181.3,597.4 C1184.1,596.2 1190.4,593.8 1193.4,593.4 C1196.4,593.0 1202.9,593.5 1205.4,594.4 C1207.9,595.3 1211.1,598.2 1213.4,600.5 C1215.7,602.8 1221.4,609.8 1223.5,612.5 C1225.6,615.2 1229.4,620.0 1230.5,622.5 C1231.6,625.0 1232.2,631.3 1232.5,632.6" stroke-width="2.1"/>
<polygon points="244.8,103.7 249.4,102.8 254.0,103.7 254.6,101.4 257.4,100.5 260.9,100.2 263.2,98.2 267.8,98.2 269.5,99.7 268.3,101.9 264.9,101.9 264.9,104.2 265.7,106.0 265.5,108.8 263.2,110.0 260.9,111.7 260.9,114.6 257.4,114.6 255.1,112.0 252.8,111.4 254.0,114.0 255.4,114.6 255.7,116.6 250.0,116.3 247.1,111.7 245.4,107.1" fill="#000" stroke-width="2"/>
<path d="M266.6,101.7 C266.9,101.9 268.4,103.2 268.9,103.4 C269.4,103.7 270.6,103.2 270.9,103.7 C271.2,104.2 270.8,106.4 271.5,107.1 C272.2,107.8 276.0,109.1 276.6,109.4"/>
<polygon points="25.0,107.2 28.2,104.0 32.2,103.2 36.2,103.2 40.8,104.0 41.9,107.2 41.9,112.9 35.1,115.8 34.2,118.4 28.8,118.7 26.5,115.8 25.0,112.4" fill="#000" stroke-width="2"/>
</g>
<g>
<rect x="907.3" y="70.5" width="14.6" height="1.6" rx="0.8" fill="#999"/>
<rect x="311.2" y="151.4" width="14.4" height="14.1" rx="1.2" fill="#000"/>
<text x="330.1" y="163.3" font-size="13.85">Antwerpen</text>
<rect x="294.1" y="294.0" width="16.5" height="17.7" rx="1.2" fill="#000"/>
<text x="313.3" y="307.9" font-size="13.85">BRUXELLES (BRUSSEL)</text>
<rect x="854.0" y="73.3" width="13.7" height="13.4" rx="1.2" fill="#000"/>
<text x="872.1" y="85.3" font-size="13.85">Duisburg</text>
<rect x="907.2" y="58.2" width="14.7" height="13.5" rx="1.2" fill="#000"/>
<text x="926.3" y="69.9" font-size="13.85">Essen</text>
<rect x="861.1" y="151.2" width="13.6" height="14.5" rx="1.2" fill="#000"/>
<text x="879.3" y="163.0" font-size="13.85">Düsseldorf</text>
<rect x="899.1" y="256.9" width="16.3" height="17.9" rx="1.2" fill="#000"/>
<text x="919.5" y="270.0" font-size="13.85">Köln</text>
<rect x="1017.2" y="36.1" width="13.5" height="13.5" rx="1.2" fill="#000"/>
<text x="1035.3" y="47.2" font-size="13.85">Dortmund</text>
</g>
<polygon points="252.3,195.6 260.0,203.3 252.3,211.0 244.6,203.3" fill="#2bf4fd" stroke="#000" stroke-width="1.4" stroke-linejoin="miter"/>
<polygon points="1015.8,404.7 1023.5,412.4 1015.8,420.1 1008.1,412.4" fill="#08fa1c" stroke="#000" stroke-width="1.4" stroke-linejoin="miter"/>
<polygon points="1026.5,442.6 1034.2,450.3 1026.5,458.0 1018.8,450.3" fill="#2bf4fd" stroke="#000" stroke-width="1.4" stroke-linejoin="miter"/>
<polygon points="1007.70,453.30 1010.98,463.39 1021.59,463.39 1013.00,469.62 1016.28,479.71 1007.70,473.48 999.12,479.71 1002.40,469.62 993.81,463.39 1004.42,463.39" fill="#ff00ff"/>
<!-- ticks -->
<g stroke="#000" stroke-width="2.8">
<line x1="19.6" y1="54.5" x2="36.6" y2="54.5"/>
<line x1="1259.6" y1="54.5" x2="1242.6" y2="54.5"/>
<text x="1271.6" y="63.7" font-size="33.3" stroke="none">51.5°N</text>
<line x1="19.6" y1="240.4" x2="36.6" y2="240.4"/>
<line x1="1259.6" y1="240.4" x2="1242.6" y2="240.4"/>
<text x="1271.6" y="249.6" font-size="33.3" stroke="none">51°N</text>
<line x1="19.6" y1="424.5" x2="36.6" y2="424.5"/>
<line x1="1259.6" y1="424.5" x2="1242.6" y2="424.5"/>
<text x="1271.6" y="433.7" font-size="33.3" stroke="none">50.5°N</text>
<line x1="19.6" y1="606.4" x2="36.6" y2="606.4"/>
<line x1="1259.6" y1="606.4" x2="1242.6" y2="606.4"/>
<text x="1271.6" y="615.6" font-size="33.3" stroke="none">50°N</text>
<line x1="453.7" y1="17.5" x2="453.7" y2="34.5"/>
<line x1="453.7" y1="632.5" x2="453.7" y2="615.5"/>
<text x="452.8" y="672.2" font-size="33.3" text-anchor="middle" stroke="none">5°E</text>
<line x1="1035.5" y1="17.5" x2="1035.5" y2="34.5"/>
<line x1="1035.5" y1="632.5" x2="1035.5" y2="615.5"/>
<text x="1035.5" y="672.2" font-size="33.3" text-anchor="middle" stroke="none">7.5°E</text>
</g>
<!-- scale bar -->
<g stroke="#000" stroke-width="3.8">
<line x1="908" y1="585.8" x2="1239" y2="585.9" stroke-width="4.5"/>
<line x1="908" y1="577.8" x2="908" y2="594.2" />
<line x1="1239" y1="577.8" x2="1239" y2="594.2"/>
</g>
<text x="1073" y="575.8" font-size="22.2" text-anchor="middle">km</text>
<text x="1073" y="610.8" font-size="22.2" text-anchor="middle">100</text>
<!-- copyright -->
<rect x="19.6" y="600" width="456.4" height="32.5" fill="#000"/>
<text x="24" y="624" font-size="22.3" style="fill:#fff">© Collaborative project of ROB and BNS</text>
<!-- frame -->
<rect x="19.6" y="17.5" width="1240.0" height="615.0" fill="none" stroke="#000" stroke-width="2.8"/>
<!-- legend event -->
<rect x="32.3" y="29.7" width="515.5" height="44.0" fill="#fff" stroke="#000" stroke-width="2.7"/>
<polygon points="67.60,36.40 70.88,46.49 81.49,46.49 72.90,52.72 76.18,62.81 67.60,56.58 59.02,62.81 62.30,52.72 53.71,46.49 64.32,46.49" fill="#ff00ff"/>
<text x="111.5" y="60.2" font-size="25.1">PLAIDT (DE), 2023-01-14, ML=1.9</text>
<!-- legend MDP -->
<rect x="1090.5" y="27.7" width="160.0999999999999" height="67.8" fill="#fff" stroke="#000" stroke-width="2.7"/>
<text x="1169.5" y="54" font-size="25.4" text-anchor="middle">Num. MDPs</text>
<polygon points="1145.5,68.8 1153.2,76.5 1145.5,84.2 1137.8,76.5" fill="#fff" stroke="#000" stroke-width="1.4" stroke-linejoin="miter"/>
<text x="1179.5" y="83.8" font-size="19.4">[1 -</text>
<!-- colorbar -->
<rect x="74.70" y="694.00" width="160.60" height="30.30" fill="#c2cacd"/>
<rect x="234.80" y="694.00" width="161.55" height="30.30" fill="#2bf4fd"/>
<rect x="395.85" y="694.00" width="161.55" height="30.30" fill="#08fa1c"/>
<rect x="556.90" y="694.00" width="161.55" height="30.30" fill="#f8fe1c"/>
<rect x="717.95" y="694.00" width="161.55" height="30.30" fill="#ff8000"/>
<rect x="879.00" y="694.00" width="161.55" height="30.30" fill="#f90310"/>
<rect x="1040.05" y="694.00" width="163.35" height="30.30" fill="#800080"/>
<polygon points="74.70,694.00 20.50,709.15 74.70,724.30" fill="#fff"/>
<polygon points="1202.40,694.00 1257.90,709.15 1202.40,724.30" fill="#800080"/>
<polygon points="20.50,709.15 74.70,694.00 1203.40,694.00 1257.90,709.15 1203.40,724.30 74.70,724.30" fill="none" stroke="#000" stroke-width="2.2" stroke-linejoin="round"/>
<line x1="155.32" y1="724.30" x2="155.32" y2="734.80" stroke="#000" stroke-width="2.2"/>
<text x="155.32" y="766.7" font-size="27.8" text-anchor="middle">1</text>
<line x1="316.56" y1="724.30" x2="316.56" y2="734.80" stroke="#000" stroke-width="2.2"/>
<text x="316.56" y="766.7" font-size="27.8" text-anchor="middle">2</text>
<line x1="477.81" y1="724.30" x2="477.81" y2="734.80" stroke="#000" stroke-width="2.2"/>
<text x="477.81" y="766.7" font-size="27.8" text-anchor="middle">3</text>
<line x1="639.05" y1="724.30" x2="639.05" y2="734.80" stroke="#000" stroke-width="2.2"/>
<text x="639.05" y="766.7" font-size="27.8" text-anchor="middle">4</text>
<line x1="800.29" y1="724.30" x2="800.29" y2="734.80" stroke="#000" stroke-width="2.2"/>
<text x="800.29" y="766.7" font-size="27.8" text-anchor="middle">5</text>
<line x1="961.54" y1="724.30" x2="961.54" y2="734.80" stroke="#000" stroke-width="2.2"/>
<text x="961.54" y="766.7" font-size="27.8" text-anchor="middle">6</text>
<line x1="1122.78" y1="724.30" x2="1122.78" y2="734.80" stroke="#000" stroke-width="2.2"/>
<text x="1122.78" y="766.7" font-size="27.8" text-anchor="middle">7</text>
<text x="639" y="815" font-size="38.9" text-anchor="middle">Macroseismic Intensity (CII)</text>
</svg>
</body></html>
